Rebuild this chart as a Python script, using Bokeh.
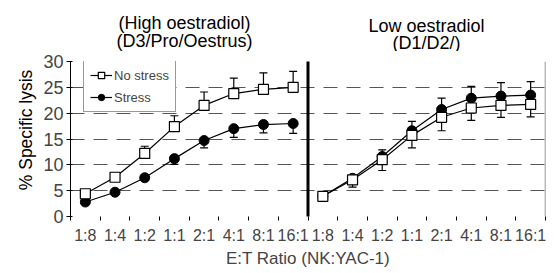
import math
from bokeh.plotting import figure
from bokeh.layouts import column, row
from bokeh.models import (ColumnDataSource, FixedTicker, Whisker, TeeHead, Legend,
                          LegendItem, Label, Range1d)
from bokeh.embed import file_html
from bokeh.resources import INLINE

ratios = ["1:8", "1:4", "1:2", "1:1", "2:1", "4:1", "8:1", "16:1"]
panel_titles = [["(High oestradiol)", "(D3/Pro/Oestrus)"], ["Low oestradiol", "(D1/D2/)"]]
series_names = ["No stress", "Stress"]
y_title = "% Specific lysis"
x_title = "E:T Ratio (NK:YAC-1)"

high_nostress = [4.4, 7.6, 12.2, 17.4, 21.5, 23.8, 24.6, 25.0]
high_nostress_err = [0.8, 0.8, 1.4, 2.1, 2.6, 3.0, 3.2, 3.1]
high_stress = [2.8, 4.7, 7.5, 11.2, 14.7, 17.0, 17.8, 18.0]
high_stress_err = [0.3, 0.3, 0.4, 1.1, 1.4, 1.7, 1.6, 1.9]

low_nostress = [3.9, 7.1, 11.0, 15.7, 19.2, 21.0, 21.5, 21.7]
low_nostress_err = [0.4, 1.4, 2.1, 2.4, 2.6, 2.4, 2.3, 2.4]
low_stress = [3.9, 7.4, 11.6, 16.6, 20.7, 22.9, 23.3, 23.5]
low_stress_err = [0.3, 0.4, 1.3, 1.8, 2.2, 2.3, 2.6, 2.6]

y_ticks = [0, 5, 10, 15, 20, 25, 30]

FONT = "Liberation Sans"
n = len(ratios)
y_top = y_ticks[-1]
x_high = [i + 0.5 for i in range(n)]
x_low = [n + i + 0.5 for i in range(n)]


def bare(fig):
    fig.outline_line_color = None
    fig.xgrid.grid_line_color = None
    fig.ygrid.grid_line_color = None
    return fig


# ---- title strip (panel headings) ----
TH = 51
top = bare(figure(width=554, height=TH, output_backend="svg", toolbar_location=None,
                  x_range=Range1d(0, 2 * n), y_range=Range1d(0, TH),
                  x_axis_location=None, y_axis_location=None,
                  min_border_left=70, min_border_right=9, min_border_top=0, min_border_bottom=0))
for cx, lines, ys in [(3.84, panel_titles[0], (TH - 22.5, TH - 40.0)),
                      (11.99, panel_titles[1], (TH - 25.3, TH - 42.0))]:
    for txt, yy in zip(lines, ys):
        top.add_layout(Label(x=cx, y=yy, text=txt, text_align="center", text_baseline="alphabetic",
                             text_font=FONT, text_font_size="18px", text_color="black"))

# ---- left strip (y axis title) ----
MH = 273 - TH
LW = 40
side = bare(figure(width=LW, height=MH, output_backend="svg", toolbar_location=None,
                   x_range=Range1d(0, LW), y_range=Range1d(0, MH),
                   x_axis_location=None, y_axis_location=None,
                   min_border_left=0, min_border_right=0, min_border_top=0, min_border_bottom=0))
side.add_layout(Label(x=25, y=MH - (149.0 - TH), text=y_title, angle=math.pi / 2,
                      text_align="center", text_baseline="middle",
                      text_font=FONT, text_font_size="17.5px", text_color="black"))

# ---- main plot ----
p = figure(width=554 - LW, height=MH, output_backend="svg", toolbar_location=None,
           x_range=Range1d(0, 2 * n), y_range=Range1d(0, y_top),
           min_border_left=70 - LW, min_border_right=9, min_border_top=10, min_border_bottom=57)
p.outline_line_color = None
p.background_fill_color = "white"
p.xgrid.grid_line_color = None
p.ygrid.ticker = FixedTicker(ticks=y_ticks)
p.ygrid.grid_line_color = "#555555"
p.ygrid.grid_line_dash = "14 9"
p.ygrid.grid_line_width = 1

p.yaxis.ticker = FixedTicker(ticks=y_ticks)
p.yaxis.major_label_text_font = FONT
p.yaxis.major_label_text_font_size = "18px"
p.yaxis.major_label_standoff = 3
p.yaxis.major_tick_out = 4
p.yaxis.major_tick_in = 2
p.yaxis.minor_tick_line_color = None
p.yaxis.axis_line_color = "black"

all_x = x_high + x_low
p.xaxis.ticker = FixedTicker(ticks=all_x, minor_ticks=list(range(0, 2 * n + 1)))
p.xaxis.major_label_overrides = {x: r for x, r in zip(all_x, ratios + ratios)}
p.xaxis.major_label_text_font = FONT
p.xaxis.major_label_text_font_size = "16px"
p.xaxis.major_label_standoff = 6
p.xaxis.major_tick_out = 0
p.xaxis.major_tick_in = 0
p.xaxis.minor_tick_out = 4
p.xaxis.minor_tick_in = 0
p.xaxis.axis_line_color = None
p.xaxis.axis_label = x_title
p.xaxis.axis_label_text_font = FONT
p.xaxis.axis_label_text_font_size = "17px"
p.xaxis.axis_label_text_font_style = "normal"
p.xaxis.axis_label_standoff = 2

# panel divider and right border
p.segment(x0=[n], y0=[-0.4], x1=[n], y1=[y_top + 0.3], line_color="black", line_width=3)
p.segment(x0=[2 * n], y0=[0], x1=[2 * n], y1=[y_top], line_color="#777777", line_width=1.5)


def add_errors(xs, ys, errs, up):
    if up:
        src = ColumnDataSource(dict(x=xs, lo=ys, hi=[y + e for y, e in zip(ys, errs)]))
        w = Whisker(source=src, base="x", lower="lo", upper="hi",
                    upper_head=TeeHead(size=8, line_width=1.2), lower_head=None,
                    line_width=1.2, level="underlay")
    else:
        src = ColumnDataSource(dict(x=xs, lo=[y - e for y, e in zip(ys, errs)], hi=ys))
        w = Whisker(source=src, base="x", lower="lo", upper="hi",
                    lower_head=TeeHead(size=8, line_width=1.2), upper_head=None,
                    line_width=1.2, level="underlay")
    p.add_layout(w)


add_errors(x_high, high_nostress, high_nostress_err, True)
add_errors(x_high, high_stress, high_stress_err, False)
add_errors(x_low, low_nostress, low_nostress_err, False)
add_errors(x_low, low_stress, low_stress_err, True)

renderers = {}
for xs, ns, st, key in [(x_high, high_nostress, high_stress, "high"), (x_low, low_nostress, low_stress, "low")]:
    l1 = p.line(xs, ns, line_color="black", line_width=1.2)
    l2 = p.line(xs, st, line_color="black", line_width=1.2)
    s2 = p.scatter(xs, st, marker="circle", size=10, fill_color="black", line_color="black")
    s1 = p.scatter(xs, ns, marker="square", size=10, fill_color="white", line_color="black", line_width=1.2)
    renderers[key] = (l1, s1, l2, s2)

l1, s1, l2, s2 = renderers["high"]
legend = Legend(items=[LegendItem(label=series_names[0], renderers=[l1, s1]),
                       LegendItem(label=series_names[1], renderers=[l2, s2])],
                location=(13, 104), label_text_font=FONT, label_text_font_size="13px",
                glyph_width=22, glyph_height=16, label_height=16, label_standoff=2,
                spacing=6, padding=6, margin=0,
                border_line_color="#333333", border_line_width=1,
                background_fill_color="white", background_fill_alpha=1)
p.add_layout(legend)

layout = column(top, row(side, p, spacing=0), spacing=0)
open("out.html", "w").write(file_html(layout, INLINE))
